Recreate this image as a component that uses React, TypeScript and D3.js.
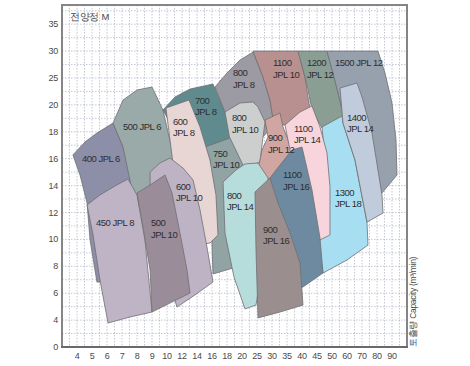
import * as d3 from 'd3';

// axis tick values (the chart uses an uneven, evenly spaced scale)
const xTicks = [4, 5, 6, 7, 8, 9, 10, 12, 14, 16, 18, 20, 25, 30, 35, 40, 45, 50, 60, 70, 80, 90];
const yTicks = [0, 4, 6, 8, 10, 12, 14, 16, 18, 20, 25, 30, 35];

// pump models, back to front
const models = [
  ['400 JPL 6'], ['500 JPL 6'], ['700', 'JPL 8'], ['800', 'JPL 8'], ['1100', 'JPL 10'],
  ['1200', 'JPL 12'], ['1500 JPL 12'], ['800', 'JPL 10'], ['750', 'JPL 10'], ['600', 'JPL 8'],
  ['900', 'JPL 12'], ['1300', 'JPL 18'], ['1400', 'JPL 14'], ['1100', 'JPL 14'], ['1100', 'JPL 16'],
  ['800', 'JPL 14'], ['900', 'JPL 16'], ['450 JPL 8'], ['600', 'JPL 10'], ['500', 'JPL 10'],
];

const colors = [
  '#8d8ea8', '#9aaaa9', '#5f8b8e', '#9c9aa2', '#b8908f',
  '#8b9e94', '#97a0ad', '#cdcfcf', '#92a3a3', '#e7d6d3',
  '#d1a5a1', '#a8def2', '#c0cbdc', '#f8d5dd', '#6d8aa0',
  '#b6dcdc', '#9a8e8e', '#bfb3c6', '#bdb3c5', '#9a8c98',
];

// operating ranges: [capacity m3/min, head m]
const ranges: [number, number][][] = [
  [[3.73, 16.28], [4.53, 17.24], [5.33, 17.91], [6.4, 18.65], [7.07, 16.87], [7.53, 15.38], [8, 13.45], [8.2, 10.7], [8.2, 7.72], [5.73, 6.83], [5.33, 6.83], [4.87, 9.96], [4.67, 12.71], [4.2, 14.79]],
  [[6.4, 18.65], [7.07, 20.91], [8, 22.77], [9, 23.33], [9.73, 19.62], [10.67, 16.65], [11.07, 12.93], [7.87, 12.56], [7.07, 16.87]],
  [[9.73, 19.62], [11.07, 21.47], [13.07, 22.95], [16.13, 23.88], [17.73, 19.47], [18.67, 17.02], [15.07, 15.9], [13.07, 15.9]],
  [[16.4, 23.33], [18, 25.93], [19.73, 28.34], [23.67, 29.8], [27, 25.18], [29.33, 20.91], [30.67, 18.51], [26, 17.39], [17.73, 19.47]],
  [[23.67, 30], [38.67, 30], [41, 25.18], [42.67, 19.62], [34.33, 18.51], [30.67, 18.51], [29.33, 20.91], [27, 25.18]],
  [[38.67, 30], [48.33, 30], [50.67, 25.93], [55.33, 20.91], [57.33, 19.25], [55.33, 18.88], [46.67, 18.28], [43.33, 19.62], [42, 22.77], [41, 25.18]],
  [[48.33, 30], [80.67, 30], [85.33, 25.93], [90, 20.35], [92.67, 17.39], [93.33, 14.79], [83.33, 13.45], [68.67, 13.67], [57.33, 19.4], [50.67, 25.93]],
  [[17.73, 19.47], [19.73, 20.35], [23.67, 20.54], [25.33, 19.84], [27.67, 18.73], [26.67, 17.02], [26, 15.75], [20.33, 15.31], [18.4, 17.39]],
  [[15.07, 16.87], [18.4, 17.54], [20.33, 15.53], [21.67, 12.93], [19.73, 8.02], [16.13, 7.43], [16, 9.58], [15.73, 15.9]],
  [[9.93, 19.77], [12.93, 20.91], [14.4, 18.36], [15.73, 15.9], [16.53, 13.3], [16.8, 10.33], [15.73, 9.73], [13.73, 9.58], [11.07, 14.42], [10.4, 17.39]],
  [[27.67, 18.88], [32.67, 19.4], [33.67, 18.36], [36.67, 16.65], [32.67, 15.16], [29.33, 14.42], [25.33, 15.16], [26.67, 16.65], [28.67, 17.61]],
  [[46.67, 18.36], [56.67, 19.17], [57.33, 18.65], [65.33, 15.9], [73.33, 11.29], [74, 9.58], [60, 8.47], [47, 7.5], [45.33, 9.96], [47.67, 15.9]],
  [[55.33, 23.14], [66.67, 24.07], [70, 21.47], [76.67, 17.91], [83.33, 13.3], [84, 11.96], [73.33, 11.29], [65.33, 15.9], [57.33, 18.65]],
  [[34.33, 18.51], [39.33, 19.47], [43.33, 19.92], [46, 18.36], [48.33, 16.42], [49.33, 13.9], [49.33, 10.33], [46, 9.96], [39.33, 12.93], [36, 16.65]],
  [[29.33, 14.57], [32.67, 15.53], [36.67, 16.65], [40, 16.87], [43.33, 13.67], [46, 10.1], [47, 7.5], [40.33, 6.46], [34.33, 6.24], [31, 10.7]],
  [[17.47, 14.27], [19.2, 15.16], [21, 15.61], [25.33, 15.68], [28.67, 14.57], [28.67, 10.7], [24.67, 5.12], [21, 4.83], [18.93, 7.2], [17.73, 10.48]],
  [[24.33, 13.52], [29.33, 14.57], [32, 12.71], [36, 10.48], [39.33, 8.25], [40.33, 5.12], [32.67, 4.6], [25.33, 4.16], [24.67, 9.21]],
  [[4.67, 12.56], [5.53, 13.3], [6.53, 13.97], [7.4, 14.49], [8, 13.3], [8.53, 9.96], [9, 4.6], [7.53, 4.23], [6.07, 3.57], [5.53, 6.98], [5.07, 10.33]],
  [[8.87, 15.01], [9.53, 15.68], [10.4, 16.05], [12.13, 15.31], [13.47, 14.42], [14.4, 12.19], [15.33, 9.43], [16.13, 6.83], [13.73, 5.87], [11.33, 4.97], [9.53, 9.21], [8.87, 12.93]],
  [[8, 13.45], [8.87, 14.04], [9.87, 14.79], [10.67, 13.45], [11.73, 10.48], [12.67, 7.72], [13.07, 6.01], [10.4, 5.27], [9, 4.6], [8.87, 7.72], [8.4, 10.92]],
];

// where each model name sits: [capacity, head] of first line
const labelAt: [number, number][] = [
  [4.33, 15.98], [7.07, 18.43], [13.73, 20.91], [18.8, 25.93], [30.33, 27.79],
  [41.67, 27.79], [52, 27.79], [18.67, 19.03], [16.13, 16.42], [10.8, 18.8],
  [28.67, 17.54], [52, 13.52], [60, 19.1], [37.33, 18.28], [33.67, 14.79],
  [18, 13.3], [27, 10.77], [5.27, 11.22], [11.2, 13.97], [8.93, 11.22],
];

const W = 470;
const H = 366;
const left = 62;
const top = 5;
const right = 407;
const bottom = 347;

export default function App() {
  const xDom = [3, ...xTicks, 100];
  const yDom = [...yTicks, 40];
  const x = d3.scaleLinear().domain(xDom).range(xDom.map((_, i) => left + i * 15));
  const y = d3.scaleLinear().domain(yDom).range(yDom.map((_, i) => bottom - i * 26.9));

  const xGrid: number[] = [];
  xDom.forEach((v, i) => {
    if (i > 0) xGrid.push(v);
    if (i < xDom.length - 1) xGrid.push((v + xDom[i + 1]) / 2);
  });
  const yGrid: number[] = [];
  yDom.forEach((v, i) => {
    yGrid.push(v);
    if (i < yDom.length - 1) yGrid.push((v + yDom[i + 1]) / 2);
  });

  const line = d3.line<[number, number]>().x(d => x(d[0])).y(d => y(d[1]));
  const font = '"Liberation Sans", Arial, sans-serif';

  return (
    <svg width={W} height={H} style={{ position: 'absolute', left: 0, top: 0 }}>
      <rect x={0} y={0} width={W} height={H} fill="#fff" />
      <g stroke="#a9b0c2" strokeWidth={0.7} strokeDasharray="1.5,1.5">
        {xGrid.filter(v => x(v) < right - 1).map((v, i) => (
          <line key={'gx' + i} x1={x(v)} x2={x(v)} y1={top} y2={bottom} />
        ))}
        {yGrid.filter(v => y(v) > top + 1 && y(v) < bottom - 1).map((v, i) => (
          <line key={'gy' + i} x1={left} x2={right} y1={y(v)} y2={y(v)} />
        ))}
      </g>

      {ranges.map((pts, i) => (
        <path key={'r' + i} d={line(pts) + 'Z'} fill={colors[i]} stroke="#6f6f72" strokeWidth={0.8} strokeLinejoin="round" />
      ))}

      <g fontFamily={font} fontSize={9.5} fill="#2e2e2e" letterSpacing={-0.5}>
        {models.map((lines, i) =>
          lines.map((s, j) => (
            <text key={'t' + i + '-' + j} x={x(labelAt[i][0])} y={y(labelAt[i][1]) + 3.5 + j * 11.5}>{s}</text>
          ))
        )}
      </g>

      <path d={`M${left},${bottom}V${top}H${right}V${bottom}`} fill="none" stroke="#858585" strokeWidth={2} />
      <line x1={left - 1} x2={right + 1} y1={bottom} y2={bottom} stroke="#6a6a6a" strokeWidth={2} />

      <g fontFamily={font} fontSize={9} fill="#4a4a4a" letterSpacing={-0.3}>
        {yTicks.map(v => (
          <text key={'yt' + v} x={58} y={y(v) + 3} textAnchor="end">{v}</text>
        ))}
        {xTicks.map(v => (
          <text key={'xt' + v} x={x(v)} y={359} textAnchor="middle">{v}</text>
        ))}
        <text x={70} y={20} fontSize={9.5}>전양정 M</text>
        <text transform={`translate(416,${bottom}) rotate(-90)`} fontSize={8.5}>토출량 Capacity (m³/min)</text>
      </g>
    </svg>
  );
}
